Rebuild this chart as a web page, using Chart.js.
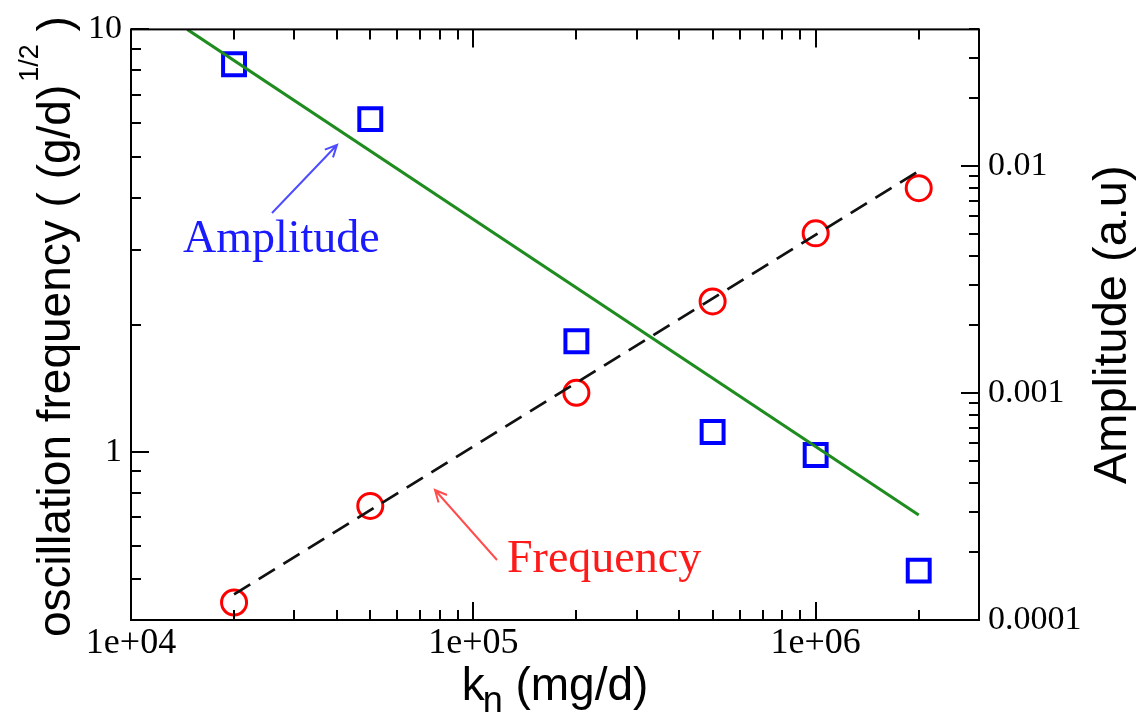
<!DOCTYPE html>
<html>
<head>
<meta charset="utf-8">
<script src="https://cdn.jsdelivr.net/npm/chart.js@4.4.0/dist/chart.umd.min.js"></script>
<style>
  html, body { margin: 0; padding: 0; background: #ffffff; }
  canvas { display: block; }
</style>
</head>
<body>
<canvas id="c" width="1140" height="716"></canvas>
<script>
// ---- data ----
const kn = [2e4, 5e4, 2e5, 5e5, 1e6, 2e6];
const frequency = [0.44, 0.745, 1.38, 2.27, 3.29, 4.21];
const amplitude = [0.0281, 0.0161, 0.00169, 0.000673, 0.000533, 0.000165];
const amplitudeFitX = [1.46e4, 2e6];
const amplitudeFitY = [0.04, 0.00029];
const frequencyFitX = [2e4, 2e6];
const frequencyFitY = [0.46, 4.62];

const xTicks = [1e4, 1e5, 1e6];
const xTickLabels = ['1e+04', '1e+05', '1e+06'];
const yTicks = [1, 10];
const yTickLabels = ['1', '10'];
const y2Ticks = [1e-4, 1e-3, 1e-2];
const y2TickLabels = ['0.0001', '0.001', '0.01'];

const xRange = [1e4, 3e6];
const yRange = [0.4, 10];
const y2Range = [1e-4, 0.04];

const pts = (xs, ys) => xs.map((x, i) => ({ x: x, y: ys[i] }));

const SERIF_FAMILY = '"Liberation Serif", "Times New Roman", serif';
const TICK_FONT = { family: SERIF_FAMILY, size: 34 };
const XTICK_FONT = { family: SERIF_FAMILY, size: 36 };

function minorValues(min, max) {
  const out = [];
  const e0 = Math.floor(Math.log10(min)) - 1, e1 = Math.ceil(Math.log10(max)) + 1;
  for (let e = e0; e <= e1; e++) {
    for (let m = 1; m <= 9; m++) {
      const v = parseFloat((m * Math.pow(10, e)).toPrecision(6));
      if (v >= min * 0.9999 && v <= max * 1.0001) out.push({ v: v, major: m === 1 });
    }
  }
  return out;
}

function arrow(ctx, x1, y1, x2, y2, color) {
  ctx.save();
  ctx.strokeStyle = color;
  ctx.lineWidth = 2;
  ctx.beginPath();
  ctx.moveTo(x1, y1); ctx.lineTo(x2, y2);
  const a = Math.atan2(y2 - y1, x2 - x1), L = 13, s = Math.PI / 7;
  ctx.moveTo(x2 - L * Math.cos(a - s), y2 - L * Math.sin(a - s));
  ctx.lineTo(x2, y2);
  ctx.lineTo(x2 - L * Math.cos(a + s), y2 - L * Math.sin(a + s));
  ctx.stroke();
  ctx.restore();
}

const framePlugin = {
  id: 'frame',
  afterDraw(chart) {
    const ctx = chart.ctx, a = chart.chartArea;
    const sx = chart.scales.x, sy = chart.scales.y, sy2 = chart.scales.y2;
    ctx.save();
    ctx.strokeStyle = '#000';
    ctx.lineWidth = 2;
    ctx.strokeRect(a.left, a.top, a.right - a.left, a.bottom - a.top);
    ctx.beginPath();
    const MAJ = 18, MIN = 10;
    minorValues(xRange[0], xRange[1]).forEach(t => {
      const px = Math.round(sx.getPixelForValue(t.v));
      const l = t.major ? MAJ : MIN;
      ctx.moveTo(px, a.bottom); ctx.lineTo(px, a.bottom - l);
      ctx.moveTo(px, a.top); ctx.lineTo(px, a.top + l);
    });
    minorValues(yRange[0], yRange[1]).forEach(t => {
      const py = Math.round(sy.getPixelForValue(t.v));
      const l = t.major ? MAJ : MIN;
      ctx.moveTo(a.left, py); ctx.lineTo(a.left + l, py);
    });
    minorValues(y2Range[0], y2Range[1]).forEach(t => {
      const py = Math.round(sy2.getPixelForValue(t.v));
      const l = t.major ? MAJ : MIN;
      ctx.moveTo(a.right, py); ctx.lineTo(a.right - l, py);
    });
    ctx.stroke();

    // axis titles
    const SANS = '"Liberation Sans", Arial, sans-serif';
    ctx.fillStyle = '#000';
    ctx.textBaseline = 'alphabetic';
    ctx.textAlign = 'left';
    // left title (rotated)
    ctx.save();
    ctx.translate(70, 637);
    ctx.rotate(-Math.PI / 2);
    ctx.font = '46px ' + SANS;
    const main = 'oscillation frequency ( (g/d)';
    ctx.fillText(main, 0, 0);
    let w = ctx.measureText(main).width + 3;
    ctx.font = '27px ' + SANS;
    ctx.fillText('1/2', w, -32);
    w += ctx.measureText('1/2').width;
    ctx.font = '46px ' + SANS;
    ctx.fillText(' )', w, 0);
    ctx.restore();
    // right title
    ctx.save();
    ctx.translate(1126, (a.top + a.bottom) / 2);
    ctx.rotate(-Math.PI / 2);
    ctx.font = '47px ' + SANS;
    ctx.textAlign = 'center';
    ctx.fillText('Amplitude (a.u)', 0, 0);
    ctx.restore();
    // bottom title
    ctx.font = '46px ' + SANS;
    const kW = ctx.measureText('k').width;
    ctx.font = '36px ' + SANS;
    const nW = ctx.measureText('n').width;
    ctx.font = '46px ' + SANS;
    const rest = ' (mg/d)';
    const rW = ctx.measureText(rest).width;
    let x0 = (a.left + a.right) / 2 - (kW + nW - 2 + rW) / 2;
    ctx.fillText('k', x0, 700);
    ctx.font = '36px ' + SANS;
    ctx.fillText('n', x0 + kW - 2, 712);
    ctx.font = '46px ' + SANS;
    ctx.fillText(rest, x0 + kW - 2 + nW, 700);

    // annotations
    ctx.font = '46px ' + SERIF_FAMILY;
    ctx.fillStyle = '#1a1aff';
    ctx.fillText('Amplitude', 183, 252);
    ctx.fillStyle = '#ff1a1a';
    ctx.fillText('Frequency', 507, 572);
    ctx.restore();
    arrow(ctx, 272, 213, 337, 145, '#4d4dff');
    arrow(ctx, 497, 560, 435, 490, '#ff4d4d');
  }
};

new Chart(document.getElementById('c'), {
  type: 'scatter',
  data: {
    datasets: [
      {
        label: 'Amplitude fit',
        data: pts(amplitudeFitX, amplitudeFitY),
        yAxisID: 'y2',
        showLine: true,
        borderColor: '#1e8c1e',
        borderWidth: 3,
        pointRadius: 0,
        order: 0
      },
      {
        label: 'Frequency fit',
        data: pts(frequencyFitX, frequencyFitY),
        yAxisID: 'y',
        showLine: true,
        borderColor: '#111',
        borderWidth: 2.8,
        borderDash: [19, 10],
        pointRadius: 0,
        order: 1
      },
      {
        label: 'Amplitude',
        data: pts(kn, amplitude),
        yAxisID: 'y2',
        pointStyle: 'rect',
        pointRadius: 15.5,
        pointBorderWidth: 4,
        pointBorderColor: '#0000ff',
        pointBackgroundColor: 'rgba(0,0,0,0)',
        borderColor: '#0000ff',
        order: 2
      },
      {
        label: 'Frequency',
        data: pts(kn, frequency),
        yAxisID: 'y',
        pointStyle: 'circle',
        pointRadius: 12.5,
        pointBorderWidth: 3,
        pointBorderColor: '#ff0000',
        pointBackgroundColor: 'rgba(0,0,0,0)',
        borderColor: '#ff0000',
        order: 3
      }
    ]
  },
  options: {
    responsive: false,
    animation: false,
    devicePixelRatio: 1,
    layout: { padding: { top: 29, left: 0, right: 0, bottom: 0 } },
    plugins: { legend: { display: false }, tooltip: { enabled: false } },
    events: [],
    scales: {
      x: {
        type: 'logarithmic', position: 'bottom', min: xRange[0], max: xRange[1],
        grid: { display: false, drawTicks: false },
        border: { display: false },
        afterBuildTicks: s => { s.ticks = xTicks.map(v => ({ value: v })); },
        afterFit: s => { s.height = 96; },
        ticks: { font: XTICK_FONT, color: '#000', padding: 2, autoSkip: false, maxRotation: 0,
                 callback: (v, i) => xTickLabels[i] }
      },
      y: {
        type: 'logarithmic', position: 'left', min: yRange[0], max: yRange[1],
        grid: { display: false, drawTicks: false },
        border: { display: false },
        afterBuildTicks: s => { s.ticks = yTicks.map(v => ({ value: v })); },
        afterFit: s => { s.width = 131; },
        ticks: { font: TICK_FONT, color: '#000', padding: 9, autoSkip: false,
                 callback: (v, i) => yTickLabels[i] }
      },
      y2: {
        type: 'logarithmic', position: 'right', min: y2Range[0], max: y2Range[1],
        grid: { display: false, drawTicks: false },
        border: { display: false },
        afterBuildTicks: s => { s.ticks = y2Ticks.map(v => ({ value: v })); },
        afterFit: s => { s.width = 161; },
        ticks: { font: TICK_FONT, color: '#000', padding: 9, autoSkip: false,
                 callback: (v, i) => y2TickLabels[i] }
      }
    }
  },
  plugins: [framePlugin]
});
</script>
</body>
</html>
